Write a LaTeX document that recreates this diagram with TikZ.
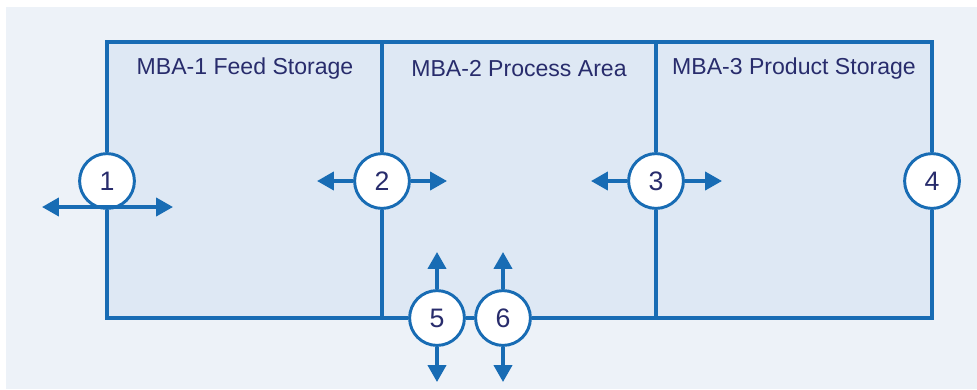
\documentclass[tikz,border=0pt]{standalone}
\usepackage{fontspec}
\setmainfont{Liberation Sans}
\usetikzlibrary{arrows.meta}
\definecolor{mbaline}{RGB}{24,108,180}
\definecolor{mbatext}{RGB}{40,44,108}
\definecolor{mbaback}{RGB}{237,242,248}
\definecolor{mbafill}{RGB}{222,232,244}
\tikzset{
  kmp/.style={circle, draw=mbaline, line width=2.1pt, fill=white, minimum size=1.37cm,
    inner sep=0pt, text=mbatext, font=\fontsize{19}{19}\selectfont},
  area/.style={text=mbatext, font=\fontsize{16.4}{18}\selectfont},
  wall/.style={draw=mbaline, line width=2.5pt, line join=miter},
  flow/.style={mbaline, line width=2.5pt, -{Triangle[length=0.42cm,width=0.45cm]}}
}
\begin{document}
\begin{tikzpicture}[x=0.025cm, y=-0.025cm]
  \useasboundingbox (0,0) rectangle (977,389);
  \fill[mbaback] (6,7) rectangle (977,389);
  % corners of the three material balance areas
  \coordinate (nw) at (107,42); \coordinate (ne) at (932,42);
  \coordinate (sw) at (107,318); \coordinate (se) at (932,318);
  \coordinate (t2) at (382,42); \coordinate (b2) at (382,318);
  \coordinate (t3) at (656,42); \coordinate (b3) at (656,318);
  \fill[mbafill] (nw) rectangle (se);
  \node[area] (mba1) at (245,69) {MBA-1 Feed Storage};
  \node[area] (mba2) at (519,69) {MBA-2 Process Area};
  \node[area] (mba3) at (794,69) {MBA-3 Product Storage};
  % key measurement points
  \node[kmp] (p1) at (107,181) {1};
  \node[kmp] (p2) at (382,181) {2};
  \node[kmp] (p3) at (656,181) {3};
  \node[kmp] (p4) at (932,181) {4};
  \node[kmp] (p5) at (437,318) {5};
  \node[kmp] (p6) at (503,318) {6};
  \draw[wall] (p1.north) -- (nw) -- (ne) -- (p4.north);
  \draw[wall] (p1.south) -- (sw) -- (p5.west);
  \draw[wall] (p5.east) -- (p6.west);
  \draw[wall] (p6.east) -- (se) -- (p4.south);
  \draw[wall] (t2) -- (p2.north); \draw[wall] (p2.south) -- (b2);
  \draw[wall] (t3) -- (p3.north); \draw[wall] (p3.south) -- (b3);
  % transfers across the boundaries
  \coordinate (f1l) at (42,207); \coordinate (f1r) at (173,207);
  \coordinate (f1) at (107,207);
  \draw[flow] (f1) -- (f1l); \draw[flow] (f1) -- (f1r);
  \coordinate (f2l) at (317,181); \coordinate (f2r) at (447,181);
  \draw[flow] (p2.west) -- (f2l); \draw[flow] (p2.east) -- (f2r);
  \coordinate (f3l) at (591,181); \coordinate (f3r) at (722,181);
  \draw[flow] (p3.west) -- (f3l); \draw[flow] (p3.east) -- (f3r);
  \coordinate (f5u) at (437,252); \coordinate (f5d) at (437,382);
  \draw[flow] (p5.north) -- (f5u); \draw[flow] (p5.south) -- (f5d);
  \coordinate (f6u) at (503,252); \coordinate (f6d) at (503,382);
  \draw[flow] (p6.north) -- (f6u); \draw[flow] (p6.south) -- (f6d);
\end{tikzpicture}
\end{document}
